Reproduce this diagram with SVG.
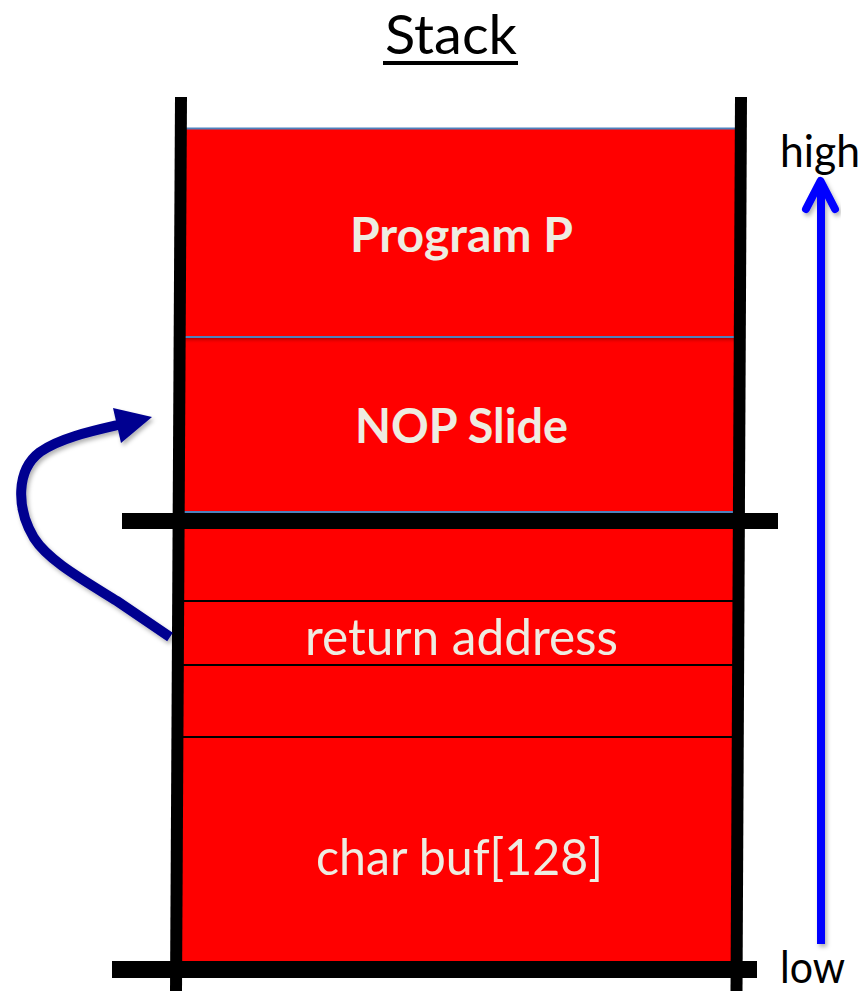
<svg xmlns="http://www.w3.org/2000/svg" width="864" height="991" viewBox="0 0 864 991">
<defs>
<style>
.lbl{font-family:Lato,"Open Sans","Liberation Sans",sans-serif;fill:#eeece1;text-anchor:middle}
.b{font-weight:bold;font-size:47px}
.r{font-size:50px}
.side{font-family:Lato,"Open Sans","Liberation Sans",sans-serif;fill:#000;font-size:44px}
.wall{stroke:#000;stroke-width:12;fill:none}
.bar{fill:#000}
.div{stroke:#000;stroke-width:2}
.sep{stroke:#4f81bd;stroke-width:2}
</style>
<filter id="sh" x="-20%" y="-20%" width="140%" height="140%">
<feDropShadow dx="2" dy="3" stdDeviation="2" flood-color="#000" flood-opacity="0.3"/>
</filter>
<linearGradient id="dk" x1="0" y1="0" x2="0" y2="1">
<stop offset="0" stop-color="#a00000" stop-opacity="0.8"/>
<stop offset="1" stop-color="#ff0000" stop-opacity="0"/>
</linearGradient>
</defs>
<rect width="864" height="991" fill="#fff"/>
<g id="title">
<text x="451" y="54" font-family="Lato,'Open Sans','Liberation Sans',sans-serif" font-size="55" fill="#000" text-anchor="middle" textLength="132" lengthAdjust="spacingAndGlyphs">Stack</text>
<rect x="383" y="61" width="135" height="4" fill="#000"/>
</g>
<g id="stack-fill">
<polygon points="179,128 739,128 737,961 177,961" fill="#ff0000"/>
<rect x="182" y="338" width="553" height="6" fill="url(#dk)"/>
</g>
<g id="program-p">
<line class="sep" x1="184" y1="128.5" x2="735" y2="128.5"/>
<text class="lbl b" x="461.5" y="252" textLength="223" lengthAdjust="spacingAndGlyphs">Program P</text>
</g>
<g id="nop-slide">
<line class="sep" x1="184" y1="337" x2="735" y2="337"/>
<line class="sep" x1="184" y1="512" x2="735" y2="512"/>
<text class="lbl b" x="461.5" y="443" textLength="213" lengthAdjust="spacingAndGlyphs">NOP Slide</text>
</g>
<g id="frame-top">
<line class="div" x1="180" y1="601" x2="736" y2="601"/>
</g>
<g id="return-address">
<line class="div" x1="180" y1="665" x2="736" y2="665"/>
<text class="lbl r" x="461.5" y="655" textLength="313" lengthAdjust="spacingAndGlyphs">return address</text>
</g>
<g id="frame-mid">
<line class="div" x1="180" y1="737" x2="736" y2="737"/>
</g>
<g id="char-buf">
<text class="lbl r" x="459.5" y="875" textLength="287" lengthAdjust="spacingAndGlyphs">char buf[128]</text>
</g>
<g id="walls">
<line class="wall" x1="181" y1="97" x2="176" y2="991"/>
<line class="wall" x1="741" y1="97" x2="736.5" y2="991"/>
<rect class="bar" x="122" y="513" width="656" height="16"/>
<rect class="bar" x="112" y="961" width="645" height="17"/>
</g>
<g id="labels">
<text class="side" x="780" y="167" textLength="80" lengthAdjust="spacingAndGlyphs">high</text>
<text class="side" x="780" y="983" textLength="65" lengthAdjust="spacingAndGlyphs">low</text>
</g>
<g id="connectors">
<g filter="url(#sh)">
<line x1="821" y1="944" x2="821" y2="183" stroke="#0000ff" stroke-width="8"/>
<polyline points="806,209 820.5,181 835,209" fill="none" stroke="#0000ff" stroke-width="8" stroke-linecap="round" stroke-linejoin="round"/>
</g>
<g filter="url(#sh)">
<path d="M170,637 L117,601 C80,578 48,560 34,538 C16,508 16,470 40,452 C60,438 92,431 118,425" fill="none" stroke="#000090" stroke-width="10"/>
<polygon points="152,417 113,408 121,443" fill="#000090"/>
</g>
</g>
</svg>
